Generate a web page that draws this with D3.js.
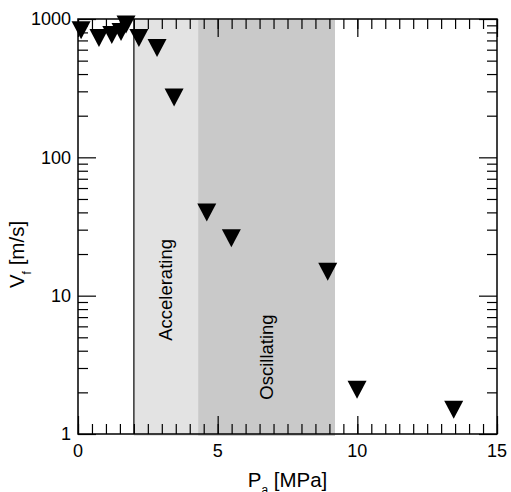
<!DOCTYPE html>
<html>
<head>
<meta charset="utf-8">
<script src="https://cdn.jsdelivr.net/npm/d3@7"></script>
<style>
  body { margin: 0; background: #fff; }
  text { font-family: "Liberation Sans", Arial, sans-serif; fill: #000; }
</style>
</head>
<body>
<svg id="chart" width="511" height="492"></svg>
<script>
// data
var pressure = [0.11, 0.75, 1.21, 1.54, 1.72, 2.18, 2.83, 3.44, 4.61, 5.49, 8.94, 9.99, 13.45]; // MPa
var velocity = [828, 729, 766, 805, 913, 729, 617, 271, 39.9, 26.0, 14.9, 2.09, 1.5];          // m/s

var regionNames = ["Accelerating", "Oscillating"];
var regionStart = [2, 4.3];
var regionEnd = [4.3, 9.2];
var regionFill = ["#e3e3e3", "#c9c9c9"];
var regionLabelV = [11, 3.6]; // velocity level where each label is centred

var xTicks = [0, 5, 10, 15];
var yTicks = [1, 10, 100, 1000];

var margin = {top: 19, right: 14, bottom: 58, left: 78};
var width = 511 - margin.left - margin.right;
var height = 492 - margin.top - margin.bottom;

var svg = d3.select("#chart");
var g = svg.append("g")
    .attr("transform", "translate(" + margin.left + "," + margin.top + ")");

var x = d3.scaleLinear().domain([0, 15]).range([0, width]);
var y = d3.scaleLog().domain([1, 1000]).range([height, 0]);

/*====================================================================
       shaded regimes
    ==================================================================*/
regionNames.forEach(function (name, i) {
    g.append("rect")
        .attr("x", x(regionStart[i]))
        .attr("y", 1)
        .attr("width", x(regionEnd[i]) - x(regionStart[i]))
        .attr("height", height + 1)
        .attr("fill", regionFill[i]);
});

g.append("line")
    .attr("x1", x(regionStart[0])).attr("x2", x(regionStart[0]))
    .attr("y1", 0).attr("y2", height)
    .attr("stroke", "#333")
    .attr("stroke-width", 1.5);

regionNames.forEach(function (name, i) {
    var cx = (x(regionStart[i]) + x(regionEnd[i])) / 2;
    var cy = y(regionLabelV[i]);
    g.append("text")
        .attr("transform", "translate(" + cx + "," + cy + ") rotate(-90)")
        .attr("text-anchor", "middle")
        .attr("dy", "0.35em")
        .style("font-size", "18.5px")
        .text(name);
});

/*====================================================================
       axes, ticks pointing inwards on all four sides
    ==================================================================*/
var xMinor = d3.range(0, 15.01, 0.5);
var yMinor = [];
[1, 10, 100].forEach(function (d) {
    for (var k = 2; k <= 9; k++) yMinor.push(d * k);
});

function xAxis(axisFn, ticks, len) {
    return axisFn(x).tickValues(ticks).tickSizeInner(-len).tickSizeOuter(0).tickFormat("");
}
function yAxis(axisFn, ticks, len) {
    return axisFn(y).tickValues(ticks).tickSizeInner(-len).tickSizeOuter(0).tickFormat("");
}

var axisLayers = [
    g.append("g").attr("transform", "translate(0," + height + ")").call(xAxis(d3.axisBottom, xMinor, 10)),
    g.append("g").attr("transform", "translate(0," + height + ")").call(xAxis(d3.axisBottom, xTicks, 18)),
    g.append("g").call(xAxis(d3.axisTop, xMinor, 10)),
    g.append("g").call(xAxis(d3.axisTop, xTicks, 18)),
    g.append("g").call(yAxis(d3.axisLeft, yMinor, 10)),
    g.append("g").call(yAxis(d3.axisLeft, yTicks, 18)),
    g.append("g").attr("transform", "translate(" + width + ",0)").call(yAxis(d3.axisRight, yMinor, 10)),
    g.append("g").attr("transform", "translate(" + width + ",0)").call(yAxis(d3.axisRight, yTicks, 18))
];
axisLayers.forEach(function (a) {
    a.selectAll(".domain").remove();
    a.selectAll(".tick line").attr("stroke", "#000").attr("stroke-width", 1.2);
});

g.append("rect")
    .attr("width", width)
    .attr("height", height)
    .attr("fill", "none")
    .attr("stroke", "#000")
    .attr("stroke-width", 1.5);

// tick labels
g.selectAll(".xlab")
    .data(xTicks)
    .enter().append("text")
    .attr("x", function (d) { return x(d); })
    .attr("y", height + 23)
    .attr("text-anchor", "middle")
    .style("font-size", "18px")
    .text(function (d) { return d; });

g.selectAll(".ylab")
    .data(yTicks)
    .enter().append("text")
    .attr("x", -7)
    .attr("y", function (d) { return y(d); })
    .attr("dy", "0.35em")
    .attr("text-anchor", "end")
    .style("font-size", "18px")
    .text(function (d) { return d; });

// axis titles
var xTitle = g.append("text")
    .attr("x", width / 2)
    .attr("y", height + 53)
    .attr("text-anchor", "middle")
    .style("font-size", "20.5px");
xTitle.append("tspan").text("P");
xTitle.append("tspan").attr("dy", 7).style("font-size", "12px").text("a");
xTitle.append("tspan").attr("dy", -7).text(" [MPa]");

var yTitle = g.append("text")
    .attr("transform", "translate(-54," + (height / 2 + 28) + ") rotate(-90)")
    .attr("text-anchor", "middle")
    .style("font-size", "20.5px");
yTitle.append("tspan").text("V");
yTitle.append("tspan").attr("dy", 7).style("font-size", "12px").text("f");
yTitle.append("tspan").attr("dy", -7).text(" [m/s]");

/*====================================================================
       markers: filled down-pointing triangles
    ==================================================================*/
var tw = 19, th = 18;
g.selectAll(".pt")
    .data(pressure)
    .enter().append("path")
    .attr("d", function (d, i) {
        var px = x(d), py = y(velocity[i]);
        return "M" + (px - tw / 2) + "," + (py - th / 2) +
            "L" + (px + tw / 2) + "," + (py - th / 2) +
            "L" + px + "," + (py + th / 2) + "Z";
    })
    .attr("fill", "#000");
</script>
</body>
</html>
